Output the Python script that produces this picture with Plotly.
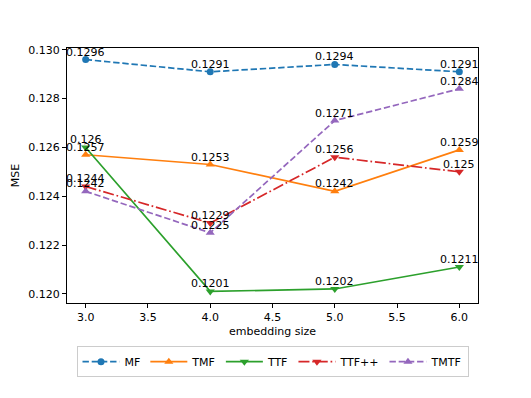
import plotly.graph_objects as go

sizes = [3.0, 4.0, 5.0, 6.0]
mf = [0.1296, 0.1291, 0.1294, 0.1291]
tmf = [0.1257, 0.1253, 0.1242, 0.1259]
ttf = [0.126, 0.1201, 0.1202, 0.1211]
ttfpp = [0.1244, 0.1229, 0.1256, 0.125]
tmtf = [0.1242, 0.1225, 0.1271, 0.1284]
label_texts = {
    "MF": ["0.1296", "0.1291", "0.1294", "0.1291"],
    "TMF": ["0.1257", "0.1253", "0.1242", "0.1259"],
    "TTF": ["0.126", "0.1201", "0.1202", "0.1211"],
    "TTF++": ["0.1244", "0.1229", "0.1256", "0.125"],
    "TMTF": ["0.1242", "0.1225", "0.1271", "0.1284"],
}

series = [
    ("MF", mf, "#1f77b4", "6.4px,2.8px", "circle"),
    ("TMF", tmf, "#ff7f0e", "solid", "triangle-up"),
    ("TTF", ttf, "#2ca02c", "solid", "triangle-down"),
    ("TTF++", ttfpp, "#d62728", "11px,2.8px,1.7px,2.8px", "triangle-down"),
    ("TMTF", tmtf, "#9467bd", "6.4px,2.8px", "triangle-up"),
]

font = "DejaVu Sans"
fig = go.Figure()
annotations = []
for name, vals, color, dash, sym in series:
    fig.add_trace(go.Scatter(
        x=sizes, y=vals, name=name, mode="lines+markers",
        line=dict(color=color, width=1.7, dash=dash),
        marker=dict(color=color, size=8 if sym != "circle" else 7, symbol=sym),
    ))
    for xv, yv, t in zip(sizes, vals, label_texts[name]):
        annotations.append(dict(
            x=xv, y=yv, xref="x", yref="y", text=t, showarrow=False,
            xanchor="center", yanchor="bottom", yshift=-1,
            font=dict(family=font, size=11, color="#000000"),
        ))

fig.update_layout(
    width=523, height=390,
    margin=dict(l=59, r=53, t=40, b=95),
    paper_bgcolor="white", plot_bgcolor="white",
    font=dict(family=font, size=11, color="#000000"),
    annotations=annotations,
    showlegend=True,
    legend=dict(
        orientation="h", x=0.5, xanchor="center", y=-0.23, yanchor="middle",
        bordercolor="#cccccc", borderwidth=1, bgcolor="white",
        font=dict(family=font, size=11), itemwidth=37,
    ),
    xaxis=dict(
        title=dict(text="embedding size", standoff=4, font=dict(size=11)),
        range=[2.85, 6.15], tickvals=[3.0, 3.5, 4.0, 4.5, 5.0, 5.5, 6.0],
        tickformat=".1f", showgrid=False, zeroline=False, automargin=False,
        showline=True, mirror=True, linecolor="black", linewidth=1,
        ticks="outside", ticklen=4, tickcolor="black",
    ),
    yaxis=dict(
        title=dict(text="MSE", standoff=6, font=dict(size=11)),
        range=[0.119625, 0.130075], tickvals=[0.120, 0.122, 0.124, 0.126, 0.128, 0.130],
        tickformat=".3f", showgrid=False, zeroline=False, automargin=False,
        showline=True, mirror=True, linecolor="black", linewidth=1,
        ticks="outside", ticklen=4, tickcolor="black",
    ),
)

fig.write_html("out.html")
